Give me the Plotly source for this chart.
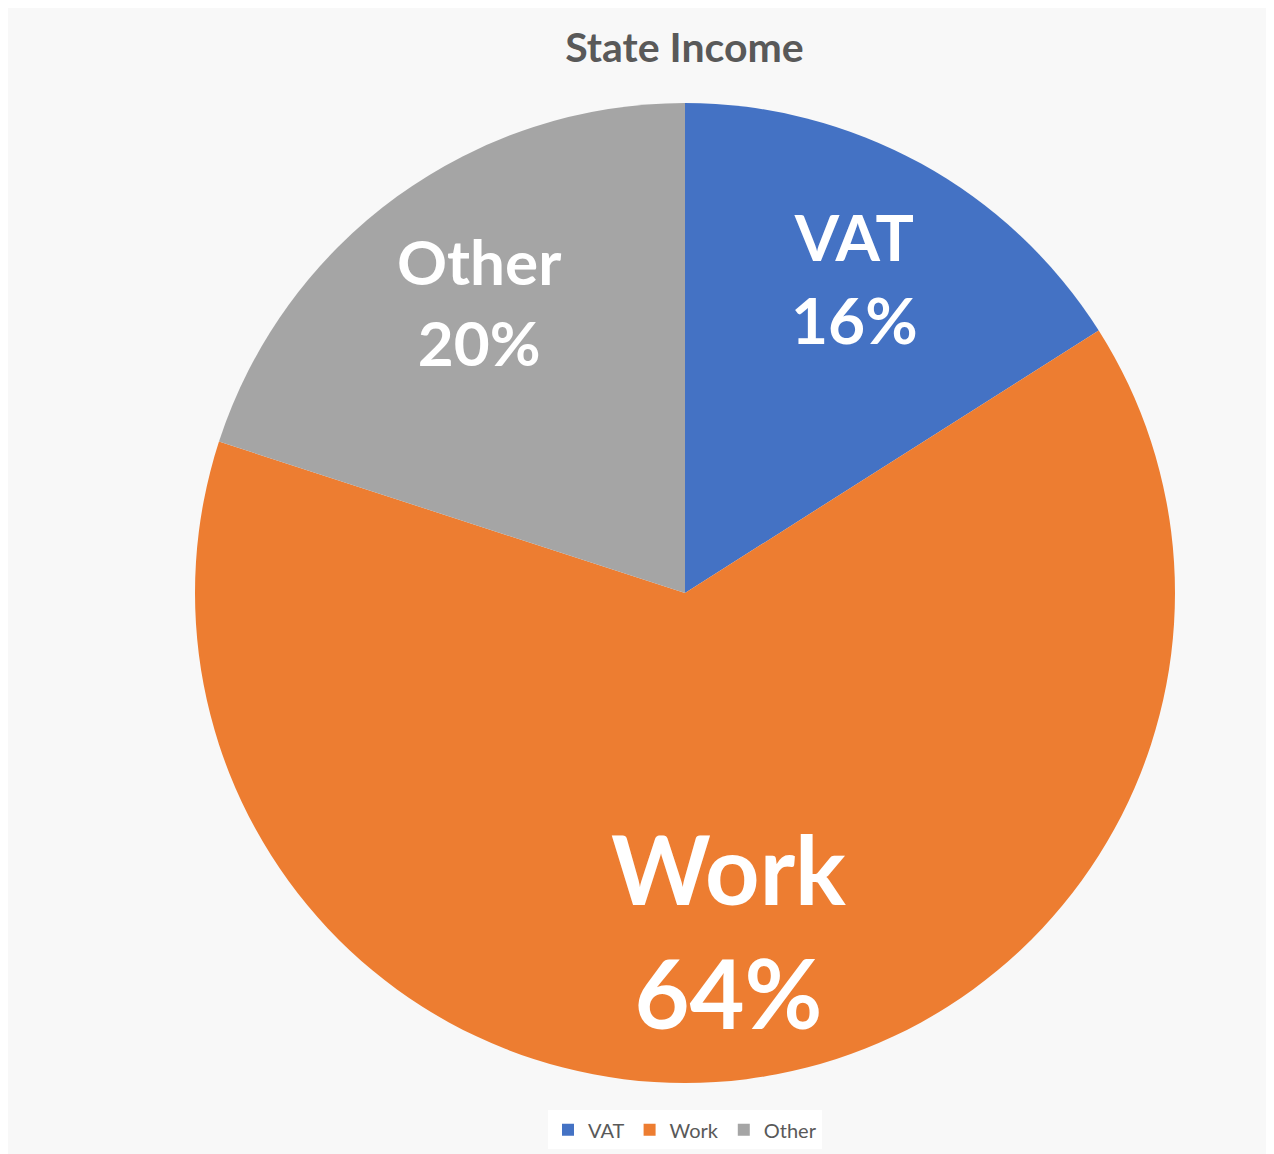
import numpy as np
import plotly.graph_objects as go

# State income shares (%)
labels = ["VAT", "Work", "Other"]
values = [16, 64, 20]
colors = ["#4472C4", "#ED7D31", "#A5A5A5"]
label_sizes = [64, 95, 62]

fig = go.Figure()

fig.add_trace(go.Pie(
    labels=labels,
    values=values,
    sort=False,
    direction="clockwise",
    rotation=0,
    marker=dict(colors=colors, line=dict(color="white", width=0)),
    textinfo="none",
    hoverinfo="label+percent",
    domain=dict(x=[0, 1], y=[0, 1]),
))

# data labels, Excel style: placed along each slice's mid angle at ~72% of the radius
total = sum(values)
shares = np.array(values) / total
mid_angles = (np.cumsum(shares) - shares / 2) * 2 * np.pi
label_radius = 0.358
for lab, share, ang, size in zip(labels, shares, mid_angles, label_sizes):
    fig.add_annotation(
        x=0.5 + label_radius * np.sin(ang),
        y=0.5 + label_radius * np.cos(ang),
        xref="paper",
        yref="paper",
        text=f"<b>{lab}<br>{share:.0%}</b>",
        showarrow=False,
        font=dict(family="Lato", size=size, color="white"),
        xanchor="center",
        yanchor="middle",
        yshift=size * 0.12,
    )

fig.update_layout(
    width=1274,
    height=1154,
    margin=dict(l=187, r=107, t=95, b=79),
    paper_bgcolor="#f8f8f8",
    plot_bgcolor="#f8f8f8",
    title=dict(
        text="<b>State Income</b>",
        x=0.531,
        xanchor="center",
        y=0.966,
        yanchor="middle",
        font=dict(family="Lato", size=41, color="#595959"),
    ),
    showlegend=True,
    legend=dict(
        orientation="h",
        x=0.5,
        xanchor="center",
        yref="container",
        y=0.028,
        yanchor="middle",
        bgcolor="white",
        itemwidth=30,
        font=dict(family="Lato", size=20, color="#595959"),
        traceorder="normal",
    ),
)

fig.write_html("out.html")
